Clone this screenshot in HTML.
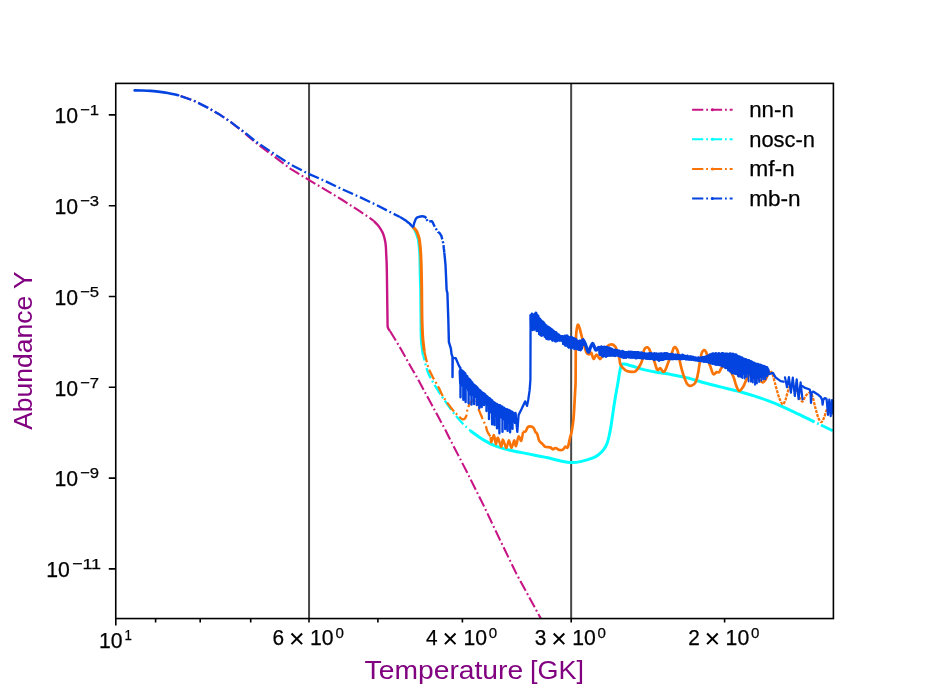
<!DOCTYPE html>
<html><head><meta charset="utf-8"><title>Abundance vs Temperature</title>
<style>html,body{margin:0;padding:0;background:#fff}body{width:926px;height:695px;overflow:hidden;font-family:"Liberation Sans",sans-serif}svg{display:block;will-change:transform}</style>
</head><body>
<svg width="926" height="695" viewBox="0 0 926 695">
<rect width="926" height="695" fill="#fff"/>
<defs><clipPath id="ax"><rect x="115.75" y="83.4" width="717.65" height="535.15"/></clipPath></defs>
<g clip-path="url(#ax)" fill="none" stroke-linejoin="round" stroke-linecap="butt">
<path d="M309.05 83.4 V618.55" stroke="#484848" stroke-width="2"/>
<path d="M571.15 83.4 V618.55" stroke="#484848" stroke-width="2"/>
<path d="M178.2 95.2 L193.8 100.7 L207.6 107.6 L219.7 114.6 L230 121.5 L243.9 132.5 L256 143 L273.3 155.9 L290.6 168.9 L309.2 180.1 L325.1 189.6 L342.4 200 L359.7 211.2 L370 218.1 L374 221.2" stroke="#c71585" stroke-width="2.1" stroke-dasharray="11.2 2.9 1.8 2.9" stroke-dashoffset="16.2"/>
<path d="M374 221.2C374.5 221.7 376.2 223.3 377 224.2C377.8 225.1 378.3 225.6 379 226.6C379.7 227.6 380.7 229.1 381.3 230.2C381.9 231.3 382.3 231.8 382.8 233C383.3 234.2 383.8 235.7 384.2 237.1C384.6 238.5 384.9 240 385.2 241.5C385.5 243 385.6 244.3 385.8 246C386 247.7 386 248.7 386.1 251.8C386.2 254.9 386.5 258.4 386.7 264.8C386.9 271.2 387 281 387.1 290C387.2 299 387.4 312.7 387.5 318.9C387.6 325.1 387.4 325.3 387.8 327.3C388.2 329.3 389.6 330.4 390 331" stroke="#c71585" stroke-width="2.4"/>
<path d="M390 331 L398.4 344.8 L400 347.5 L412.6 370 L415.5 374.7 L431.1 403.5 L445.4 430 L450.4 440 L467.3 472.8 L483.7 505.6 L500.1 540.1 L516.5 573.9 L532.9 604 L540.8 618.5" stroke="#c71585" stroke-width="2.1" stroke-dasharray="11.2 2.9 1.8 2.9"/>
<path d="M412.9 226.8C413.3 227.5 414.6 229.5 415.3 230.9C416 232.3 416.5 233.8 417 235.2C417.5 236.6 417.9 237.8 418.3 239.5C418.7 241.2 418.9 243.9 419.1 245.6C419.3 247.3 419.4 248 419.5 249.9C419.6 251.8 419.8 252.2 419.9 256.8C420 261.4 420.2 272.3 420.3 277.8C420.4 283.3 420.6 283.1 420.7 290C420.8 296.9 420.9 310.6 421 318.9C421.1 327.2 421 333.9 421.4 340C421.8 346.1 423 353 423.3 355.6" stroke="#00ffff" stroke-width="3"/>
<path d="M423.3 355.6C424.2 358.6 425.9 367.7 428.5 373.7C431.1 379.7 435 385.6 438.9 391.8C442.8 398 447.9 405.4 451.8 410.6C455.7 415.8 459.2 419.6 462.2 422.9C465.2 426.2 468.7 429.2 470 430.5" stroke="#00ffff" stroke-width="2.3" stroke-dasharray="11.2 2.9 1.8 2.9" stroke-dashoffset="6"/>
<path d="M470 430.5C472.2 432 478.7 437 483 439.6C487.3 442.2 491.6 444.4 495.9 446.1C500.2 447.8 504.6 448.9 508.9 450C513.2 451.1 517.5 451.7 521.8 452.6C526.1 453.5 530.5 454.3 534.8 455.2C539.1 456.1 543.5 456.8 547.8 457.8C552.1 458.8 556.8 460.2 560.7 461C564.6 461.8 567.6 462.5 571.1 462.6C574.6 462.7 577.9 462.2 581.5 461.4C585.1 460.6 590.1 459 593 457.9C595.9 456.8 597.1 455.8 598.8 454.5C600.5 453.2 602.1 451.6 603.4 449.9C604.7 448.2 605.8 446.4 606.8 444.1C607.8 441.8 608.4 438.9 609.1 436C609.8 433.1 610.3 430.2 610.9 426.8C611.5 423.4 612 419.1 612.6 415.3C613.2 411.5 613.6 408 614.3 403.8C615 399.6 616 393.2 616.6 390C617.2 386.8 616.9 388.7 617.6 384.8C618.3 380.9 619.8 370.1 620.8 366.7C621.8 363.2 621.6 364.2 623.4 364.1C625.2 364 628.2 365 631.8 366C635.4 367 640.5 368.8 644.8 369.9C649.1 371 653.5 371.8 657.8 372.5C662.1 373.2 666.4 373.6 670.7 374.4C675 375.1 680.5 376.3 683.7 377C686.9 377.7 686.8 377.7 690 378.6C693.2 379.5 698.7 381.3 703 382.5C707.3 383.7 711.6 384.6 715.9 385.7C720.2 386.8 724.6 387.9 728.9 389C733.2 390.1 737.5 391 741.8 392.2C746.1 393.4 750.5 394.7 754.8 396.1C759.1 397.5 763.5 399 767.8 400.6C772.1 402.2 776.4 403.9 780.7 405.8C785 407.7 788.1 409.1 793.7 411.8C799.4 414.5 811.1 420.3 814.6 422" stroke="#00ffff" stroke-width="3"/>
<path d="M817.2 423.3l1.6 .8M821 425.1L832.7 430.8" stroke="#00ffff" stroke-width="2.8"/>
<path d="M412.9 226.8C413 226.9 412.8 226.9 413.4 227.6C414 228.3 415.6 229.6 416.4 230.9C417.2 232.2 417.6 233.8 418.1 235.2C418.6 236.6 419.1 237.8 419.4 239.5C419.7 241.2 419.9 243.9 420.1 245.6C420.3 247.3 420.4 248 420.5 249.9C420.6 251.8 420.8 254.3 420.9 256.8C421 259.3 421.1 261.4 421.2 264.9C421.3 268.4 421.4 273.6 421.5 277.8C421.6 282 421.6 283.1 421.7 290C421.8 296.9 421.8 310.8 422 318.9C422.2 326.9 422.4 332.9 422.8 338.3C423.2 343.7 424.1 349.1 424.3 351.3" stroke="#f97306" stroke-width="3"/>
<path d="M424.3 351.3C424.9 353.7 426.7 361.9 427.9 365.9C429.1 369.8 429.9 371.3 431.7 375C433.5 378.7 436.9 384.2 438.9 387.9C440.8 391.6 441.2 393.5 443.4 397C445.5 400.5 449.5 405.8 451.8 408.7C454.1 411.6 455.2 412.7 457 414.5C458.8 416.3 461.3 419 462.8 419.3C464.3 419.6 465.2 418.5 466.1 416.5C467 414.5 466.7 410.1 468 407.4C469.3 404.7 471.7 399.2 473.9 400.5C476.1 401.8 479.5 411.7 481 415C482.5 418.3 482.2 418.5 483 420.2C483.8 421.9 484.9 423.5 485.6 425.4C486.4 427.3 486.6 429.9 487.5 431.8C488.4 433.7 490.2 436.1 490.7 437" stroke="#f97306" stroke-width="2.3" stroke-dasharray="11.2 2.9 1.8 2.9"/>
<path d="M490.7 437C490.8 437.9 490.8 442.5 491.4 442.2C491.9 441.9 493.2 434.8 494 435.1C494.8 435.4 495.2 443.7 495.9 444.1C496.5 444.5 497 437.3 497.9 437.7C498.8 438.1 500.2 446.4 501.1 446.7C502 447 502.1 439.4 503 439.6C503.9 439.8 505.3 447.9 506.3 448C507.3 448.1 508 440.3 508.9 440.3C509.8 440.3 510.6 448 511.5 448C512.4 448 513.4 440.6 514.1 440.3C514.9 440 515.2 446.8 516 446.1C516.8 445.5 517.7 437.3 518.6 436.4C519.5 435.5 520.5 441.7 521.2 440.9C522 440.1 522.8 433.3 523.1 431.8" stroke="#f97306" stroke-width="2.5"/>
<path d="M523.1 431.8C523.5 431.7 524.9 431.9 525.7 431.2C526.5 430.4 526.9 428.1 527.7 427.3C528.5 426.5 529.3 426.3 530.3 426.4C531.3 426.5 532.6 427 533.5 427.9C534.4 428.8 534.8 430.7 535.4 431.8C536 432.9 536.8 432.9 537.4 434.4C538 435.9 538.4 439.3 539.3 440.9C540.2 442.5 541.6 443.1 542.6 444.1C543.6 445.1 543.9 446.1 545.2 446.7C546.5 447.2 549 447 550.3 447.4C551.6 447.8 552 449.2 552.9 449.3C553.8 449.4 554.4 447.9 555.5 448C556.6 448.1 558.1 449.8 559.4 450C560.7 450.2 562.3 449.9 563.3 449.3C564.3 448.8 564.5 447 565.2 446.7C566 446.4 567 448.8 567.8 447.4C568.6 446 569.1 441.2 569.8 438.5C570.4 435.8 571.1 434.7 571.7 431.4C572.3 428.1 573 423.8 573.5 418.8C574 413.8 574.3 406.3 574.6 401.5C574.9 396.7 575 393.6 575.2 390C575.4 386.4 575.5 388.3 575.6 380C575.7 371.7 575.7 348.9 575.9 340.3C576.1 331.7 576.5 330.8 576.9 328.2C577.3 325.6 577.7 324.5 578.2 324.7C578.7 324.9 579.4 327.4 579.9 329.2C580.4 330.9 580.9 333.2 581.4 335.2C581.9 337.2 582.2 338.1 583 341C583.8 343.9 585.4 350.2 586.4 352.4C587.4 354.6 588.5 354.4 589.3 354.4C590.1 354.4 590.5 351.9 591.2 352.6C591.9 353.4 592.7 358.6 593.6 358.9C594.5 359.2 595.5 354.6 596.5 354.6C597.5 354.6 598.9 358.7 599.8 359C600.7 359.3 601.2 358 602 356.5C602.8 355 603.6 351.7 604.5 350C605.4 348.3 606.8 347.1 607.6 346.2C608.5 345.3 608.7 345 609.6 344.7C610.5 344.4 611.9 344.4 612.8 344.6C613.7 344.9 614.2 345.5 614.8 346.2C615.4 346.9 615.6 346.8 616.3 348.7C617 350.6 618.5 354.8 619.1 357.3C619.8 359.8 619.7 362.1 620.2 363.8C620.8 365.5 621.4 366.3 622.4 367.4C623.4 368.5 624.8 369.9 626 370.6C627.2 371.3 628.2 371.5 629.6 371.7C631 371.9 633.3 372.1 634.6 371.7C635.9 371.3 636.5 370.4 637.5 369.2C638.5 368 639.6 366 640.4 364.5C641.2 363 641.6 362.5 642.2 360.2C642.8 357.9 643.3 352.6 643.9 350.5C644.5 348.4 645 348.4 645.6 347.9C646.2 347.4 646.7 347.1 647.3 347.3C647.9 347.5 648.6 348.1 649.1 348.8C649.6 349.6 649.5 349.8 650.4 351.8C651.2 353.8 653.4 358.7 654.2 360.9C655.1 363.1 655.1 363.8 655.5 365.2C655.9 366.6 656.4 368.3 656.8 369.1C657.2 369.9 657.5 370.1 658.1 370C658.7 369.9 659.5 367.9 660.3 368.2C661.1 368.5 662.2 371.2 662.9 371.7C663.6 372.2 664 371.9 664.6 371.3C665.2 370.7 665.6 369.4 666.3 367.8C666.9 366.2 667.5 364.5 668.5 361.8C669.5 359.1 671.5 353.7 672.4 351.4C673.3 349.1 673.3 348.6 673.7 347.9C674.1 347.2 674.5 347 675 347.1C675.5 347.2 676.2 347.9 676.7 348.8C677.2 349.7 677.4 350 678 352.3C678.6 354.6 679.4 359.4 680.1 362.6C680.8 365.8 681.5 368.6 682.3 371.3C683.1 374 684.1 376.9 684.9 379C685.7 381.1 686.2 382.7 687 383.8C687.8 384.9 688.7 385.7 689.6 385.9C690.5 386.1 691.7 385.6 692.6 385.1C693.5 384.6 694.5 384 695.2 382.9C695.9 381.8 696.4 380.4 697 378.2C697.6 376 698.2 372.4 698.7 369.5C699.2 366.6 699.5 363.6 700 360.9C700.5 358.2 701.1 354.9 701.7 353.1C702.4 351.3 703.2 350.3 703.9 350.1C704.6 349.9 705.4 350.7 706 351.8C706.6 352.9 707.2 354.5 707.8 356.6C708.4 358.7 709.1 362.8 709.5 364.3C709.9 365.8 709.5 364 710.1 365.6C710.7 367.2 712.2 373 713.3 374.1C714.4 375.2 715.6 372.4 716.6 372.1C717.6 371.8 718.4 372.9 719.2 372.1C720.1 371.4 720.4 368.6 721.7 367.6C723 366.6 725 364.5 727 366C729 367.5 731.9 373.5 733.4 376.7C734.9 379.9 735 382.7 736 385.1C737 387.5 738 390.6 739.2 390.9C740.4 391.2 741.9 388.8 743.1 387C744.3 385.2 744.9 382.4 746.4 379.9C747.9 377.4 750.1 372.3 752 372C753.9 371.7 756.2 376.2 758 378C759.8 379.8 761.2 382.5 762.6 382.5C764 382.5 765.5 379.5 766.5 377.9C767.5 376.3 767.8 373.9 768.4 372.8C769 371.7 770 371.5 770.3 371.2" stroke="#f97306" stroke-width="2.7"/>
<path d="M770.3 371.2C770.6 371.6 771.5 371.5 772.3 373.4C773 375.3 773.8 378.8 774.8 382.5C775.8 386.2 777.4 392.4 778.4 395.5C779.4 398.6 780 399.8 780.7 401.3C781.4 402.8 782 404.6 782.8 404.4C783.6 404.2 784.6 402.1 785.4 400.3C786.1 398.5 786.5 395.8 787.3 393.4C788.1 391 789 387.3 790.1 385.9C791.2 384.4 793.1 383.8 794.2 384.7C795.4 385.6 796 388.6 797 391.1C798 393.6 799.5 398 800.5 399.7C801.5 401.4 802 401.9 802.8 401.4C803.6 400.9 804.2 398.1 805.1 396.8C806 395.5 807.1 394.1 808 393.4C808.9 392.7 809.5 392.2 810.3 392.8C811.1 393.4 811.7 394.2 812.6 396.8C813.5 399.4 814.5 404.8 815.5 408.3C816.5 411.8 817.3 415.3 818.3 417.6C819.2 419.9 820.2 422.2 821.2 422.2C822.2 422.2 823.2 419.5 824.1 417.6C825 415.7 825.6 412.2 826.4 410.6C827.2 409 828 408.2 829 408C830 407.8 832.1 409.2 832.7 409.5" stroke="#f97306" stroke-width="2.3" stroke-dasharray="3 1.1" stroke-linecap="butt"/>
<path d="M134.7 90.4C135.9 90.4 139.3 90.4 142 90.5C144.7 90.6 147.6 90.7 150.6 90.9C153.6 91.1 157.1 91.5 160 91.8C162.9 92.1 164.8 92.4 167.8 93C170.8 93.6 176.5 94.8 178.2 95.2" stroke="#0343df" stroke-width="2.7" stroke-linecap="round"/>
<path d="M178.2 95.2 L193.8 100.7 L207.6 107.6 L219.7 114.6 L230 121.5 L243.9 131.8 L256 141.7 L273.3 153.3 L290.6 164.6 L309.2 174.1 L325.1 181 L342.4 189.3 L359.7 197 L377 205.2 L391.9 213 L400 217" stroke="#0343df" stroke-width="2.3" stroke-dasharray="11.2 2.9 1.8 2.9" stroke-dashoffset="16.2"/>
<path d="M400 217C401.1 217.7 405.2 220.2 406.9 221.4C408.6 222.6 409 223.1 410 224C411 224.9 412.2 227 412.9 226.8C413.6 226.7 413.7 224.5 414.2 223.1C414.7 221.7 415.4 219.6 416 218.6C416.6 217.6 417 217.5 418.1 217.1C419.2 216.7 421.2 216.2 422.4 216.2C423.5 216.2 424.4 216.6 425 216.9C425.6 217.2 426 218.1 426.2 218.3" stroke="#0343df" stroke-width="2.4"/>
<path d="M426.2 218.3 L427.6 221.4 L431.9 221.2 L432.6 222.2 L435 227.4 L438 232 L439.3 232.8 L441.3 235.6 L442.3 239.5 L443.4 243.9 L443.8 248.2 L444.3 252.5" stroke="#0343df" stroke-width="2.4" stroke-dasharray="9 2 2 2" stroke-dashoffset="10"/>
<path d="M444.3 252.5 L444.9 258.5 L445.5 264.9 L446.1 277.8 L446.6 290 L447.4 293 L448.3 318.9 L448.9 342.2 L450.9 348.7 L451.5 353.9 L452.5 356.8 L452.5 377 L452.7 358 L455.7 358.1 L459 365.9 L461 369" stroke="#0343df" stroke-width="2.4"/>
<path d="M461 369 L460 371.4 L460.5 383 L461 370.9 L461.5 385.2 L462 370.8 L462.5 384.7 L463 371.4 L463.5 382.6 L464 372.6 L464.5 383.5 L465 373.6 L465.5 384.6 L466 375.7 L466.5 387.4 L467 376.3 L467.5 386.8 L468 378.4 L468.5 390.1 L469 379.1 L469.5 390.8 L470 380.1 L470.5 394.2 L471 381.6 L471.5 395.1 L472 382.4 L472.5 392.4 L473 384.2 L473.5 393.8 L474 384.9 L474.5 393.9 L475 385.7 L475.5 396.4 L476 386.4 L476.5 396.7 L477 387.5 L477.5 395.6 L478 388.8 L478.5 399 L479 389.9 L479.5 398.7 L480 390.4 L480.5 399.6 L481 391.7 L481.5 400.7 L482 392.4 L482.5 399 L483 393.6 L483.5 399.8 L484 393.8 L484.5 400.6 L485 394.4 L485.5 402.9 L486 396 L486.5 402.9 L487 396.5 L487.5 404.1 L488 397.5 L488.5 405.6 L489 398.2 L489.5 410.9 L490 398.8 L490.5 412.1 L491 399.9 L491.5 412 L492 400.5 L492.5 412.4 L493 401.9 L493.5 414.6 L494 402.4 L494.5 413.8 L495 403.2 L495.5 412.8 L496 404.3 L496.5 416.5 L497 404.3 L497.5 418.3 L498 405.2 L498.5 416.9 L499 405.5 L499.5 415.8 L500 405.6 L500.5 417.1 L501 406.8 L501.5 417 L502 406.8 L502.5 417.7 L503 408 L503.5 419.1 L504 408 L504.5 417.7 L505 409 L505.5 420 L506 409.5 L506.5 421.4 L507 409.5 L507.5 419.4 L508 410.6 L508.5 420.1 L509 410.3 L509.5 422.8 L510 410.9 L510.5 419.8 L511 411.7 L511.5 420.1 L512 412 L512.5 421.6 L513 412.7 L513.5 419.9 L514 413.4 L514.5 421.5 L515 414.1 L515.5 423.8M531 314.5 L531.5 328.4 L532 314.1 L532.5 329.7 L533 316.3 L533.5 329 L534 316.1 L534.5 329.3 L535 314 L535.5 327.1 L536 313 L536.5 327.2 L537 314.9 L537.5 330.6 L538 316.1 L538.5 330.4 L539 318.2 L539.5 333.8 L540 319.3 L540.5 334.8 L541 320.4 L541.5 335.4 L542 321.4 L542.5 333.4 L543 321.9 L543.5 334.8 L544 323.2 L544.5 333.8 L545 324.7 L545.5 335.3 L546 325.4 L546.5 338.5 L547 327 L547.5 338.7 L548 327 L548.5 339.1 L549 327.5 L549.5 336.8 L550 328.2 L550.5 337.1 L551 329.6 L551.5 338.9 L552 329.8 L552.5 339.9 L553 330.8 L553.5 339.7 L554 331.4 L554.5 338.3 L555 332.2 L555.5 341.1 L556 332.5 L556.5 341 L557 333.7 L557.5 339.6 L558 334.6 L558.5 339.6 L559 335 L559.5 340.3 L560 336.5 L560.5 339 L561 336.5 L561.5 340.3 L562 336.5 L562.5 340.8 L563 336.8 L563.5 343.7 L564 336.4 L564.5 342.5 L565 335.9 L565.5 345.3 L566 336 L566.5 344 L567 335.7 L567.5 343.8 L568 336.7 L568.5 347 L569 337.4 L569.5 346.1 L570 337.6 L570.5 346.3 L571 337.2 L571.5 348 L572 337.6 L572.5 346.3 L573 338.3 L573.5 346.6 L574 338.4 L574.5 346.9 L575 339.5 L575.5 346.8 L576 339.6 L576.5 347.8 L577 340.7 L577.5 348.9 L578 341.3 L578.5 348.8 L579 341.5 L579.5 349.5 L580 341 L580.5 349.9 L581 340.9 L581.5 348.6 L582 341.3 L582.5 345.9M599.5 348.5 L600 354.4 L600.5 347.8 L601 353.8 L601.5 346.7 L602 355.3 L602.5 347.3 L603 356.3 L603.5 347.4 L604 355 L604.5 347.1 L605 355.3 L605.5 347.6 L606 356.5 L606.5 347.3 L607 354.7 L607.5 347.6 L608 355.3 L608.5 347.9 L609 354.7 L609.5 347.9 L610 355.5 L610.5 348.7 L611 355.2 L611.5 349 L612 354.3 L612.5 349.5 L613 355.3 L613.5 350.3 L614 354.6 L614.5 350.6 L615 355.7 L615.5 350.1 L616 354.9 L616.5 350.9 L617 354.9 L617.5 350.5 L618 355.3 L618.5 351.7 L619 355.6 L619.5 351.1 L620 356.3 L620.5 351.9 L621 355.8 L621.5 351.8 L622 356.7 L622.5 351.2 L623 356.4 L623.5 351.7 L624 357.4 L624.5 352.4 L625 356.5 L625.5 352.4 L626 357.3 L626.5 352.5 L627 356.6 L627.5 352.6 L628 356.6 L628.5 352.1 L629 357.1 L629.5 352.9 L630 357.2 L630.5 352.1 L631 356.9 L631.5 352.3 L632 357.4 L632.5 352.3 L633 357 L633.5 352.4 L634 357 L634.5 352.6 L635 357.4 L635.5 352.6 L636 358.1 L636.5 352.5 L637 357.8 L637.5 352.4 L638 357.5 L638.5 352.4 L639 357.3 L639.5 353 L640 357.8 L640.5 353 L641 357.1 L641.5 352.7 L642 358.1 L642.5 353.2 L643 358.1 L643.5 353.7 L644 357.8 L644.5 353.5 L645 357.8 L645.5 354.1 L646 358.2 L646.5 354 L647 357.9 L647.5 353.9 L648 358.5 L648.5 353.7 L649 358.2 L649.5 353.5 L650 357.9 L650.5 354.2 L651 358.1 L651.5 353.5 L652 358.4 L652.5 354.3 L653 358.3 L653.5 354.1 L654 359.5 L654.5 353.6 L655 358.8 L655.5 353.9 L656 359 L656.5 353.8 L657 358.9 L657.5 354.4 L658 359.2 L658.5 354 L659 360.4 L659.5 354.4 L660 359.4 L660.5 353.7 L661 359.7 L661.5 353.8 L662 359 L662.5 353.9 L663 359.5 L663.5 353.9 L664 358.9 L664.5 353.6 L665 358.4 L665.5 353.8 L666 358.3 L666.5 353.4 L667 358.1 L667.5 353.8 L668 358.4 L668.5 354.2 L669 358.7 L669.5 354.5 L670 358.9 L670.5 354.8 L671 358.8 L671.5 354.3 L672 358.4 L672.5 354.2 L673 358.9 L673.5 354.9 L674 358.6 L674.5 355.2 L675 357.9 L675.5 355 L676 358.8 L676.5 355.3 L677 358.7 L677.5 355.1 L678 358.2 L678.5 355.5 L679 358.5 L679.5 355.6 L680 358.9 L680.5 355.8 L681 358.7 L681.5 355.7 L682 358.8 L682.5 355 L683 358.5 L683.5 355.5 L684 358.5 L684.5 356.2 L685 358.5 L685.5 356.2 L686 359 L686.5 356.5 L687 359.1 L687.5 355.9 L688 359 L688.5 356.9 L689 359.3 L689.5 356.9 L690 359.2 L690.5 356.6 L691 359.3 L691.5 357 L692 359.4 L692.5 357.1 L693 359.2 L693.5 357.2 L694 359.7 L694.5 358.2 L695 359.8 L695.5 357.7 L696 359.9 L696.5 358.2 L697 360 L697.5 358.3 L698 360.3 L698.5 357.8 L699 360.4 L699.5 358.2 L700 360.3 L700.5 358.4 L701 360.7 L701.5 357.7 L702 360.9 L702.5 357.6 L703 360.7 L703.5 357.7 L704 361.4 L704 357.2 L704.5 360.6 L705 357.6 L705.5 361.1 L706 356.7 L706.5 361.6 L707 356.5 L707.5 361.4 L708 355.9 L708.5 361.5 L709 355.4 L709.5 361.1 L710 354.8 L710.5 363 L711 354.9 L711.5 362.3 L712 354 L712.5 363.4 L713 353.8 L713.5 362.1 L714 354 L714.5 362.6 L715 354.4 L715.5 364.2 L716 353.5 L716.5 364.2 L717 354.2 L717.5 362.1 L718 353.9 L718.5 364.6 L719 353.4 L719.5 364 L720 354.4 L720.5 363.6 L721 354.2 L721.5 365 L722 353.6 L722.5 366.1 L723 353.5 L723.5 363.9 L724 354.1 L724.5 365.8 L725 354.1 L725.5 367.8 L726 354.1 L726.5 367.6 L727 353.9 L727.5 367.7 L728 354.2 L728.5 366.7 L729 354.3 L729.5 368.4 L730 353.7 L730.5 371 L731 353.9 L731.5 369.1 L732 354.6 L732.5 372.1 L733 354.1 L733.5 370 L734 354.9 L734.5 372.6 L735 354.7 L735.5 372.2 L736 354.8 L736.5 373.6 L737 355.8 L737.5 372.4 L738 356.5 L738.5 376 L739 356.8 L739.5 375.9 L740 357 L740.5 373 L741 358 L741.5 376.8 L742 357.7 L742.5 373.9 L742 358.7 L742.5 372.1 L743 359.2 L743.5 371.7 L744 358.9 L744.5 372.8 L745 360 L745.5 370.3 L746 359.4 L746.5 372.7 L747 360.2 L747.5 372.8 L748 360.5 L748.5 372.7 L749 360.6 L749.5 372.8 L750 361.4 L750.5 374.2 L751 361.5 L751.5 377.5 L752 362 L752.5 377.8 L753 363.1 L753.5 375.6 L754 363.1 L754.5 377.8 L755 363.5 L755.5 375 L756 364.4 L756.5 376.3 L757 364.2 L757.5 375.4 L758 364.3 L758.5 377.7 L759 365.5 L759.5 375.7 L760 364.9 L760.5 376.7 L761 365.2 L761.5 374.3 L762 365.7 L762.5 376.8 L763 366.7 L763.5 376.1 L764 366.3 L764.5 374.7 L765 366.9 L765.5 376.1 L766 367.3 L766.5 374.1 L767 367.5 L767.5 373.7 L768 369.5 L768.5 372.1" stroke="#0343df" stroke-width="3"/>
<path d="M515.5 423.8 L515.5 412.8 L517.3 431.8 L518.6 415 L521.8 408.5 L525.1 401.4 L527 405.9 L528.3 399.4 L529.6 390.4 L530.4 380 L530.6 315.7 L531 314.5" stroke="#0343df" stroke-width="2.3"/>
<path d="M582.5 345.9C582.6 344.9 582.4 340.1 582.9 339.8C583.4 339.5 584.5 342.3 585.4 344.3C586.3 346.3 587.4 351.5 588.2 352C589.1 352.5 589.8 348.7 590.5 347.3C591.2 345.9 592 343.6 592.6 343.5C593.2 343.4 593.9 345.9 594.4 347C594.9 348.1 595.2 350.1 595.9 350.2C596.6 350.3 598 347.8 598.6 347.5C599.2 347.2 599.4 348.3 599.5 348.5" stroke="#0343df" stroke-width="3.3"/>
<path d="M768.4 372 L769 374.1 L772.9 372.8 L775.5 377.3 L780.7 381.2 L784.6 381.8M801.9 385.6 L804.5 387.7 L809.7 389.5 L810.6 393 L811 402.9 L811.6 393 L813.1 391.6 L817.4 394.2 L820.9 397.2 L822.2 400 L822.6 404.6 L823.2 400 L824.8 398.1 L826.5 398.5" stroke="#0343df" stroke-width="2.3"/>
<path d="M460.5 372.5V397.3M463.3 372.7V399.7M465.6 375.8V402M468.6 379.6V403.2M471.5 383.3V404.6M474.1 385.9V404.1M476.9 388.7V404.9M479.3 391V408.3M481.7 393V407M484 395V405M486.5 397V411M489 399.1V419M492.1 401.6V424.2M494.5 403.5V425M497 405.5V428.3M499.4 406.7V433.3M502.5 408.3V431.8M505.2 409.6V429.1M507.6 410.9V430.7M510.1 412.2V432.2M512.5 413.5V428.7" stroke="#0343df" stroke-width="2.4" stroke-linecap="round"/>
<path d="M531.5 315.7V329.3M534.1 316.7V329.2M536.7 315V331M539.3 319V333.9M542.2 322.6V335M544.8 325.2V336.8M547.2 327.6V338.6M549.8 329.4V339M552.6 331.2V340.5M555.2 332.9V340.9M557.8 335V340.6M560.6 337.4V339.5M563.2 337.3V343.6M566.1 337V345.6M569 337.8V347.6M571.4 338.6V347.9M574.4 339.6V349.1M576.7 341V348.7M579.2 342.6V349.7M581.6 342.1V347.7M600 348.8V354.4M601.9 347.8V355.1M603.9 347.9V355.5M605.6 348.2V355.9M607.4 348.7V355.8M609.7 349.5V354.6M611.7 350.2V355.3M614 350.8V355.2M615.8 351.4V355.2M618.1 352V355.5M620.1 352.4V355.9M622.2 352.6V357.2M623.9 352.8V357.4M625.9 353V357.4M628.1 353.2V356.9M630.3 353.4V357.2M632 353.5V357M634 353.7V357.6M635.9 353.8V357.5M637.8 353.9V357.5M640 354V357.1M642.2 354.2V357.9M643.9 354.4V358.1M646.1 354.6V358.3M647.9 354.8V358.2M649.9 354.8V358.9M651.9 354.8V358.7M653.9 354.8V358.9M655.6 354.8V359M657.8 354.8V359.4M660.1 354.8V359.7M661.9 354.8V359.7M663.7 354.8V359.1M666 354.9V359M668.2 355.1V358.7M670.4 355.3V358.8M672.5 355.5V358.6M674.2 355.7V358.5M676.2 355.9V358.6M678.3 356.1V358.4M680 356.3V358.8M681.8 356.4V358.7M683.7 356.6V358.7M685.8 357.1V359.1M687.7 357.4V359.1M689.6 357.8V359.2M691.5 358.2V359.2M693.3 358.5V359.4M695.5 358.8V359.9M697.4 359.1V360.3M699.7 359.4V360.5M701.4 359.2V360.7M703.2 358.6V361.1M704.5 358.3V361.3M706.6 357.6V361.8M708.5 356.8V362.4M710.7 355.8V362.7M712.4 355.1V363.2M714.4 355V363.9M716.2 355V364.4M718.3 354.9V364.4M720.2 354.8V365.3M722.1 354.8V366M723.9 354.8V366.3M726.1 354.8V367.9M728.3 354.8V370.3M730.1 354.9V371.3M732.1 355.3V373.2M734.4 355.8V373.4M736.3 356.4V374.1M738.6 357.6V374.6M740.3 358.4V375" stroke="#0343df" stroke-width="2.5" stroke-linecap="round"/>
<path d="M742.5 359.4V378M744.7 360.3V378.6M746.5 361V376.9M748.6 361.9V381.5M751 362.9V381.8M752.9 363.7V382.5M755 364.5V384.7M756.9 365.3V383.5M759.1 366.2V382.1M761.4 366.8V380.7M763.4 367.3V379.2M765.4 367.9V379.2M767.3 369V376" stroke="#0343df" stroke-width="1.9" stroke-linecap="round"/>
<path d="M785 377.4 L787 387.2 L788.9 377.2 L790.9 392.6 L792.8 377.7 L794.8 396 L796.7 379.4 L798.6 399.1 L800.6 382.3 L802.5 399.5M826.6 399.1 L828 414.9 L829.3 399.6 L830.7 416.1 L832 400.2 L833.4 414.4" stroke="#0343df" stroke-width="2.2" stroke-linecap="round"/>
</g>
<rect x="115.75" y="83.4" width="717.65" height="535.15" fill="none" stroke="#000" stroke-width="1.6"/>
<path d="M115.8 618.5v7 M155.6 618.5v4 M200.2 618.5v4 M250.7 618.5v4 M309 618.5v4 M377.9 618.5v4 M462.4 618.5v4 M571.2 618.5v4 M724.6 618.5v4 M115.8 114.9h-7 M115.8 205.7h-7 M115.8 296.5h-7 M115.8 387.3h-7 M115.8 478.1h-7 M115.8 568.9h-7" stroke="#000" stroke-width="1.6" fill="none"/>
<g font-family="'Liberation Sans', sans-serif" fill="#000" stroke="#000" stroke-width="0.25">
<text x="54.5" y="123.1" font-size="21.5" textLength="23.6" lengthAdjust="spacingAndGlyphs">10</text>
<text x="80.1" y="115.2" font-size="15.5" textLength="19.0" lengthAdjust="spacingAndGlyphs">−1</text>
<text x="54.5" y="213.9" font-size="21.5" textLength="23.6" lengthAdjust="spacingAndGlyphs">10</text>
<text x="80.1" y="206" font-size="15.5" textLength="19.0" lengthAdjust="spacingAndGlyphs">−3</text>
<text x="54.5" y="304.7" font-size="21.5" textLength="23.6" lengthAdjust="spacingAndGlyphs">10</text>
<text x="80.1" y="296.8" font-size="15.5" textLength="19.0" lengthAdjust="spacingAndGlyphs">−5</text>
<text x="54.5" y="395.5" font-size="21.5" textLength="23.6" lengthAdjust="spacingAndGlyphs">10</text>
<text x="80.1" y="387.6" font-size="15.5" textLength="19.0" lengthAdjust="spacingAndGlyphs">−7</text>
<text x="54.5" y="486.3" font-size="21.5" textLength="23.6" lengthAdjust="spacingAndGlyphs">10</text>
<text x="80.1" y="478.4" font-size="15.5" textLength="19.0" lengthAdjust="spacingAndGlyphs">−9</text>
<text x="46.3" y="577.1" font-size="21.5" textLength="23.6" lengthAdjust="spacingAndGlyphs">10</text>
<text x="71.9" y="569.2" font-size="15.5" textLength="29.2" lengthAdjust="spacingAndGlyphs">−11</text>
<text x="99" y="648.1" font-size="21.5" textLength="23.6" lengthAdjust="spacingAndGlyphs">10</text>
<text x="124.4" y="640.2" font-size="15.5" textLength="7.4" lengthAdjust="spacingAndGlyphs">1</text>
<text x="272.6" y="645.1" font-size="21.5" textLength="11.6" lengthAdjust="spacingAndGlyphs">6</text>
<path d="M291.5 633.5l10.6 10.6M291.5 644.1l10.6 -10.6" stroke="#000" stroke-width="2" fill="none"/>
<text x="310" y="645.1" font-size="21.5" textLength="23.6" lengthAdjust="spacingAndGlyphs">10</text>
<text x="335.4" y="637.8" font-size="15.5" textLength="8.4" lengthAdjust="spacingAndGlyphs">0</text>
<text x="426" y="645.1" font-size="21.5" textLength="11.6" lengthAdjust="spacingAndGlyphs">4</text>
<path d="M444.9 633.5l10.6 10.6M444.9 644.1l10.6 -10.6" stroke="#000" stroke-width="2" fill="none"/>
<text x="463.4" y="645.1" font-size="21.5" textLength="23.6" lengthAdjust="spacingAndGlyphs">10</text>
<text x="488.8" y="637.8" font-size="15.5" textLength="8.4" lengthAdjust="spacingAndGlyphs">0</text>
<text x="534.8" y="645.1" font-size="21.5" textLength="11.6" lengthAdjust="spacingAndGlyphs">3</text>
<path d="M553.7 633.5l10.6 10.6M553.7 644.1l10.6 -10.6" stroke="#000" stroke-width="2" fill="none"/>
<text x="572.2" y="645.1" font-size="21.5" textLength="23.6" lengthAdjust="spacingAndGlyphs">10</text>
<text x="597.6" y="637.8" font-size="15.5" textLength="8.4" lengthAdjust="spacingAndGlyphs">0</text>
<text x="688.2" y="645.1" font-size="21.5" textLength="11.6" lengthAdjust="spacingAndGlyphs">2</text>
<path d="M707.1 633.5l10.6 10.6M707.1 644.1l10.6 -10.6" stroke="#000" stroke-width="2" fill="none"/>
<text x="725.6" y="645.1" font-size="21.5" textLength="23.6" lengthAdjust="spacingAndGlyphs">10</text>
<text x="751" y="637.8" font-size="15.5" textLength="8.4" lengthAdjust="spacingAndGlyphs">0</text>
<path d="M692.1 109.7 H732.6" stroke="#c71585" stroke-width="2" stroke-dasharray="11.2 2.9 1.8 2.9" fill="none"/>
<circle cx="712.4" cy="109.7" r="1.5" fill="#c71585" stroke="none"/>
<text x="749.2" y="117" font-size="21.6" textLength="44.6" lengthAdjust="spacingAndGlyphs">nn-n</text>
<path d="M692.1 139.3 H732.6" stroke="#00ffff" stroke-width="2" stroke-dasharray="11.2 2.9 1.8 2.9" fill="none"/>
<circle cx="712.4" cy="139.3" r="1.5" fill="#00ffff" stroke="none"/>
<text x="749.2" y="146.6" font-size="21.6" textLength="65.8" lengthAdjust="spacingAndGlyphs">nosc-n</text>
<path d="M692.1 168.9 H732.6" stroke="#f97306" stroke-width="2" stroke-dasharray="11.2 2.9 1.8 2.9" fill="none"/>
<circle cx="712.4" cy="168.9" r="1.5" fill="#f97306" stroke="none"/>
<text x="749.2" y="176.2" font-size="21.6" textLength="45.6" lengthAdjust="spacingAndGlyphs">mf-n</text>
<path d="M692.1 198.4 H732.6" stroke="#0343df" stroke-width="2" stroke-dasharray="11.2 2.9 1.8 2.9" fill="none"/>
<circle cx="712.4" cy="198.4" r="1.5" fill="#0343df" stroke="none"/>
<text x="749.2" y="205.7" font-size="21.6" textLength="51.4" lengthAdjust="spacingAndGlyphs">mb-n</text>
</g>
<g font-family="'Liberation Sans', sans-serif" fill="#800080" font-size="25">
<text x="364.6" y="678.5" textLength="158.6" lengthAdjust="spacingAndGlyphs">Temperature</text>
<text x="530" y="678.5" textLength="54" lengthAdjust="spacingAndGlyphs">[GK]</text>
<text transform="translate(32.3 429.8) rotate(-90)" textLength="158.5" lengthAdjust="spacingAndGlyphs">Abundance Y</text>
</g>
</svg>
</body></html>
